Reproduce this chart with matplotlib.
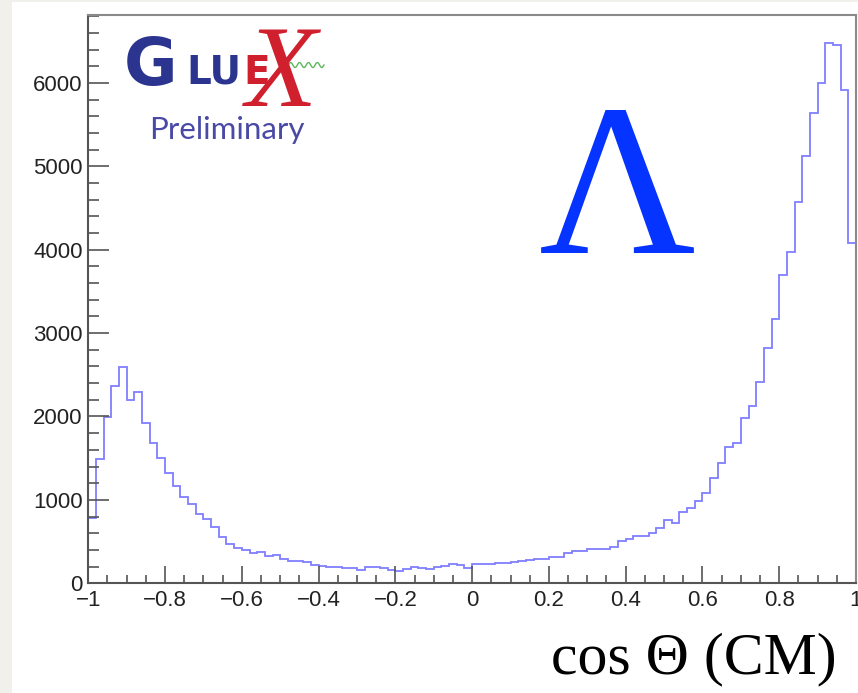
import numpy as np
import matplotlib
matplotlib.use("Agg")
import matplotlib.pyplot as plt
from matplotlib.patches import Rectangle
from matplotlib.lines import Line2D

# histogram of cos(theta) in the CM frame, 100 bins from -1 to 1
bin_lo, bin_hi, n_bins = -1.0, 1.0, 100
counts = [
    780, 1490, 1995, 2360, 2590, 2195, 2290, 1920, 1680, 1500,
    1320, 1170, 1040, 945, 830, 770, 670, 560, 475, 420,
    395, 367, 379, 330, 339, 291, 262, 267, 250, 222,
    212, 190, 200, 182, 185, 165, 195, 195, 180, 155,
    150, 170, 190, 182, 172, 200, 212, 228, 215, 185,
    231, 231, 235, 240, 240, 259, 270, 280, 291, 291,
    319, 319, 359, 391, 391, 407, 407, 410, 439, 507,
    531, 567, 567, 607, 667, 759, 727, 851, 907, 987,
    1087, 1259, 1447, 1631, 1679, 1978, 2126, 2410, 2818, 3165,
    3697, 3976, 4576, 5127, 5635, 6003, 6475, 6460, 5915, 4084,
]
xticks = [-1, -0.8, -0.6, -0.4, -0.2, 0, 0.2, 0.4, 0.6, 0.8, 1]
xticklabels = ["\u22121", "\u22120.8", "\u22120.6", "\u22120.4", "\u22120.2",
               "0", "0.2", "0.4", "0.6", "0.8", "1"]
yticks = [0, 1000, 2000, 3000, 4000, 5000, 6000]
y_max = 6814

W, H = 858, 693
fig = plt.figure(figsize=(W / 100, H / 100), dpi=100, facecolor="#f2f0eb")
# white slide panel
fig.add_artist(Rectangle((12 / W, 0), 1, (H - 2) / H, transform=fig.transFigure,
                         facecolor="white", edgecolor="none", zorder=0))

ax = fig.add_axes([88.3 / W, 1 - 583.3 / H, (856 - 88.3) / W, (583.3 - 15) / H])
ax.set_facecolor("white")

edges = np.linspace(bin_lo, bin_hi, n_bins + 1)
ax.stairs(counts, edges, color="#7f7fff", linewidth=1.3, baseline=0)

ax.set_xlim(bin_lo, bin_hi)
ax.set_ylim(0, y_max)

ax.set_xticks(xticks)
ax.set_xticklabels(xticklabels)
ax.set_xticks(np.arange(-1, 1.001, 0.05), minor=True)
ax.set_yticks(yticks)
ax.set_yticklabels([str(v) for v in yticks])
ax.set_yticks(np.arange(0, y_max, 200), minor=True)

for lab in ax.get_xticklabels() + ax.get_yticklabels():
    lab.set_family("Liberation Sans")
    lab.set_fontsize(16)
    lab.set_color("#222222")

ax.tick_params(axis="x", which="major", direction="in", length=12, width=1.2,
               color="#555555", pad=5)
ax.tick_params(axis="x", which="minor", direction="in", length=6, width=1.2,
               color="#555555")
ax.tick_params(axis="y", which="major", direction="in", length=15, width=1.2,
               color="#555555", pad=4)
ax.tick_params(axis="y", which="minor", direction="in", length=8, width=1.2,
               color="#555555")

ax.spines["left"].set_color("#555555")
ax.spines["bottom"].set_color("#555555")
ax.spines["top"].set_color("#8a8a8a")
ax.spines["right"].set_color("#8a8a8a")
for s in ax.spines.values():
    s.set_linewidth(1.5)

# big Lambda label
fig.text(617.5 / W, 1 - 253 / H, "\u039b", family="Liberation Serif",
         fontsize=156, color="#0533ff", ha="center", va="baseline")

# axis title
fig.text(837 / W, 1 - 673 / H, "cos \u0398 (CM)", family="Liberation Serif",
         fontsize=43, color="black", ha="right", va="baseline")

# GlueX logo (approximate, drawn as text)
fig.text(124 / W, 1 - 85 / H, "G", family="DejaVu Sans", weight="bold",
         fontsize=47, color="#2b3590", va="baseline")
fig.text(186 / W, 1 - 84 / H, "LU", family="DejaVu Sans", weight="bold",
         fontsize=28, color="#2b3590", va="baseline")
fig.text(243 / W, 1 - 84 / H, "E", family="DejaVu Sans", weight="bold",
         fontsize=28, color="#d0202e", va="baseline")
fig.text(282 / W, 1 - 106 / H, "X", family="Liberation Serif", style="italic",
         fontsize=84, color="#d0202e", ha="center", va="baseline")
wx = np.linspace(284, 324, 80)
wy = 65 + 2.5 * np.sin((wx - 284) / 40 * 2 * np.pi * 4.5)
fig.add_artist(Line2D(wx / W, 1 - wy / H, transform=fig.transFigure,
                      color="#5cb85c", linewidth=1.0))
fig.text(149 / W, 1 - 139 / H, "Preliminary", family="Lato",
         fontsize=22.5, color="#4a4aa6", va="baseline")

fig.savefig("out.png", dpi=100, facecolor=fig.get_facecolor())
